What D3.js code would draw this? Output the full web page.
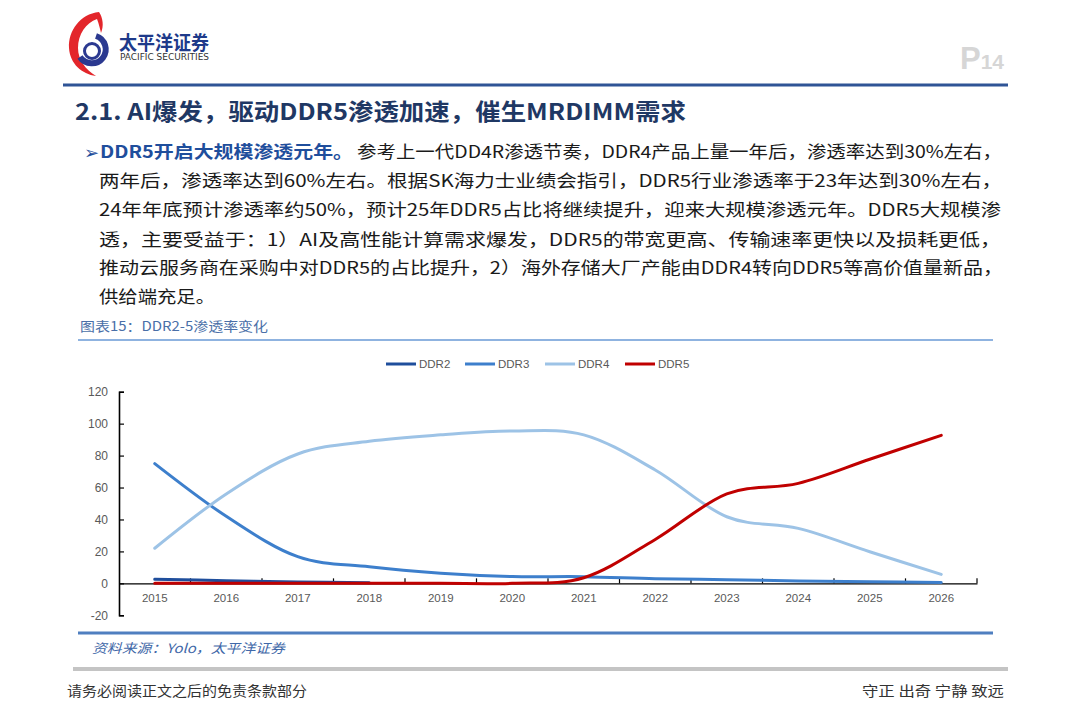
<!DOCTYPE html>
<html><head><meta charset="utf-8">
<script src="https://cdn.jsdelivr.net/npm/d3@7"></script>
<style>
html,body{margin:0;padding:0;background:#fff;}
svg{display:block;}
</style></head>
<body>
<script>
// ---- data ----
const years = ["2015","2016","2017","2018","2019","2020","2021","2022","2023","2024","2025","2026"];
const seriesNames = ["DDR2","DDR3","DDR4","DDR5"];
const ddr2 = [2.5, 1.7, 0.9, 0.4, null, null, null, null, null, null, null, null];
const ddr3 = [75, 42, 16.7, 10.4, 6.4, 4.3, 4.2, 2.9, 2.3, 1.5, 1.0, 0.6];
const ddr4 = [22, 56, 81, 89, 93, 95.4, 93, 71, 41.7, 34.4, 19.8, 5.6];
const ddr5 = [0, 0, 0, 0, 0, 0, 3.5, 27.5, 56, 62.6, 77.7, 92.7];
const yTicks = [-20, 0, 20, 40, 60, 80, 100, 120];
const seriesColors = ["#1f4e9c", "#3d7fcc", "#9dc3e6", "#c00000"];

const titleText = "2.1. AI爆发，驱动DDR5渗透加速，催生MRDIMM需求";
const leadText = "DDR5开启大规模渗透元年。";
const bodyLines = [
  "参考上一代DD4R渗透节奏，DDR4产品上量一年后，渗透率达到30%左右，",
  "两年后，渗透率达到60%左右。根据SK海力士业绩会指引，DDR5行业渗透率于23年达到30%左右，",
  "24年年底预计渗透率约50%，预计25年DDR5占比将继续提升，迎来大规模渗透元年。DDR5大规模渗",
  "透，主要受益于：1）AI及高性能计算需求爆发，DDR5的带宽更高、传输速率更快以及损耗更低，",
  "推动云服务商在采购中对DDR5的占比提升，2）海外存储大厂产能由DDR4转向DDR5等高价值量新品，",
  "供给端充足。"
];
const captionText = "图表15：DDR2-5渗透率变化";
const sourceText = "资料来源：Yolo，太平洋证券";
const footLeft = "请务必阅读正文之后的免责条款部分";
const footRight = "守正 出奇 宁静 致远";

// ---- page ----
const W = 1080, H = 722;
const svg = d3.select("body").append("svg").attr("width", W).attr("height", H);
svg.append("rect").attr("width", W).attr("height", H).attr("fill", "#fff");
const CJK = "'Noto Sans CJK SC','Noto Sans',sans-serif";

// logo
const logo = svg.append("g");
logo.append("path")
  .attr("d", "M99,12 C80,14 68,31 69,48 C70,64 82,74 96,76 C86,70 78,60 78,48 C78,34 86,23 97,19 C99,24 100,29 101,33 C104,26 103,18 99,12 Z")
  .attr("fill", "#e3262b");
logo.append("path")
  .attr("d", "M96,36 A14,14 0 1 1 80,57")
  .attr("fill", "none").attr("stroke", "#2b3990").attr("stroke-width", 6);
logo.append("circle").attr("cx", 92).attr("cy", 51).attr("r", 7.5)
  .attr("fill", "none").attr("stroke", "#2b3990").attr("stroke-width", 3);
logo.append("path").attr("d", "M88,52 C90,47 95,47 96,51")
  .attr("fill", "none").attr("stroke", "#fff").attr("stroke-width", 2);
logo.append("text").attr("x", 119).attr("y", 50).text("太平洋证券")
  .attr("font-family", CJK).attr("font-weight", 700).attr("font-size", 19)
  .attr("fill", "#1e3a8a").attr("textLength", 90).attr("lengthAdjust", "spacingAndGlyphs");
logo.append("text").attr("x", 120).attr("y", 60).text("PACIFIC SECURITIES")
  .attr("font-family", "'DejaVu Sans',sans-serif").attr("font-size", 8)
  .attr("fill", "#333").attr("textLength", 89).attr("lengthAdjust", "spacingAndGlyphs");

// P14
const pg = svg.append("text").attr("x", 960).attr("y", 69).attr("fill", "#d6d6d6")
  .attr("font-family", "'Liberation Sans',Arial,sans-serif").attr("font-weight", 700);
pg.append("tspan").attr("font-size", 31).text("P");
pg.append("tspan").attr("font-size", 21).text("14");

// header line
svg.append("line").attr("x1", 63).attr("x2", 1008).attr("y1", 85).attr("y2", 85)
  .attr("stroke", "#2f5496").attr("stroke-width", 3);

// title
svg.append("text").attr("x", 75).attr("y", 120).text(titleText)
  .attr("font-family", CJK).attr("font-weight", 700).attr("font-size", 23)
  .attr("fill", "#1f3864").attr("textLength", 611).attr("lengthAdjust", "spacingAndGlyphs");

// body
const blue = "#1f4e9c";
const baseY = [158, 187, 216, 246, 274, 303];
svg.append("text").attr("x", 84).attr("y", baseY[0] + 1).text("➢")
  .attr("font-family", "'DejaVu Sans',sans-serif").attr("font-size", 18).attr("fill", blue);
svg.append("text").attr("x", 100).attr("y", baseY[0]).text(leadText)
  .attr("font-family", CJK).attr("font-weight", 700).attr("font-size", 17).attr("fill", blue)
  .attr("textLength", 253).attr("lengthAdjust", "spacingAndGlyphs");
const lineX = [357, 99, 99, 99, 99, 99];
const lineEnd = [1002, 1002, 1001, 1001, 1003, 215];
bodyLines.forEach((t, i) => {
  svg.append("text").attr("x", lineX[i]).attr("y", baseY[i]).text(t)
    .attr("font-family", CJK).attr("font-size", 17).attr("fill", "#1a1a1a")
    .attr("textLength", lineEnd[i] - lineX[i]).attr("lengthAdjust", "spacingAndGlyphs");
});

// caption
svg.append("text").attr("x", 80).attr("y", 331).text(captionText)
  .attr("font-family", CJK).attr("font-size", 13).attr("fill", "#4a6fa8")
  .attr("textLength", 188).attr("lengthAdjust", "spacingAndGlyphs");
svg.append("line").attr("x1", 78).attr("x2", 993).attr("y1", 340).attr("y2", 340)
  .attr("stroke", "#6a9ad6").attr("stroke-width", 1.5);

// ---- chart ----
const x = d3.scaleBand().domain(years).range([119, 977]).paddingInner(0).paddingOuter(0);
const y = d3.scaleLinear().domain([-20, 120]).range([615.3, 391.7]);
const cx = d => x(d) + x.bandwidth() / 2;
const font = "'Liberation Sans',Arial,sans-serif";

// y axis
const yAxis = svg.append("g").attr("transform", "translate(119,0)")
  .call(d3.axisLeft(y).tickValues(yTicks).tickFormat(d => String(d)).tickSize(-5).tickPadding(11));
yAxis.select(".domain").attr("stroke", "#000").attr("stroke-width", 1.6);
yAxis.selectAll(".tick line").attr("stroke", "#000").attr("stroke-width", 1.2);
yAxis.selectAll("text").attr("font-family", font).attr("font-size", 12).attr("fill", "#595959");

// x axis at y=0
const y0 = y(0);
const xAxis = svg.append("g").attr("transform", `translate(0,${y0})`)
  .call(d3.axisBottom(x).tickSize(0).tickPadding(10));
xAxis.select(".domain").attr("stroke", "#000").attr("stroke-width", 1.2);
xAxis.selectAll("text").attr("font-family", font).attr("font-size", 11.5).attr("fill", "#595959");
const bounds = years.slice(1).map(d => x(d)).concat([x.range()[1]]);
svg.append("g").selectAll("line").data(bounds).join("line")
  .attr("x1", d => d).attr("x2", d => d).attr("y1", y0).attr("y2", y0 - 5)
  .attr("stroke", "#000").attr("stroke-width", 1.2);

// lines
const allSeries = [ddr2, ddr3, ddr4, ddr5];
const lineGen = d3.line()
  .defined(d => d.v !== null)
  .x(d => cx(d.year)).y(d => y(d.v))
  .curve(d3.curveCardinal.tension(0));
const widths = [3, 3, 3, 3];
allSeries.forEach((s, i) => {
  const pts = years.map((yr, j) => ({year: yr, v: s[j]}));
  svg.append("path").datum(pts).attr("d", lineGen)
    .attr("fill", "none").attr("stroke", seriesColors[i]).attr("stroke-width", widths[i])
    .attr("stroke-linecap", "round").attr("stroke-linejoin", "round");
});

// legend
const legendX = [386, 465, 545, 625];
const lg = svg.append("g");
seriesNames.forEach((n, i) => {
  lg.append("line").attr("x1", legendX[i]).attr("x2", legendX[i] + 30)
    .attr("y1", 364).attr("y2", 364).attr("stroke", seriesColors[i]).attr("stroke-width", 3);
  lg.append("text").attr("x", legendX[i] + 33).attr("y", 368).text(n)
    .attr("font-family", font).attr("font-size", 11.5).attr("fill", "#595959");
});

// bottom chart line
svg.append("line").attr("x1", 78).attr("x2", 993).attr("y1", 633).attr("y2", 633)
  .attr("stroke", "#4f7fc0").attr("stroke-width", 3);

// source
svg.append("text").attr("x", 92).attr("y", 653).text(sourceText)
  .attr("font-family", CJK).attr("font-size", 13).attr("font-style", "italic")
  .attr("fill", "#3f68a8").attr("textLength", 193).attr("lengthAdjust", "spacingAndGlyphs");

// gray line
svg.append("line").attr("x1", 73).attr("x2", 1008).attr("y1", 669).attr("y2", 669)
  .attr("stroke", "#c4c4c4").attr("stroke-width", 4);

// footer
svg.append("text").attr("x", 67).attr("y", 696).text(footLeft)
  .attr("font-family", CJK).attr("font-size", 14).attr("fill", "#333")
  .attr("textLength", 240).attr("lengthAdjust", "spacingAndGlyphs");
svg.append("text").attr("x", 862).attr("y", 696).text(footRight)
  .attr("font-family", CJK).attr("font-size", 14).attr("fill", "#333")
  .attr("textLength", 142).attr("lengthAdjust", "spacingAndGlyphs");
</script>
</body></html>
